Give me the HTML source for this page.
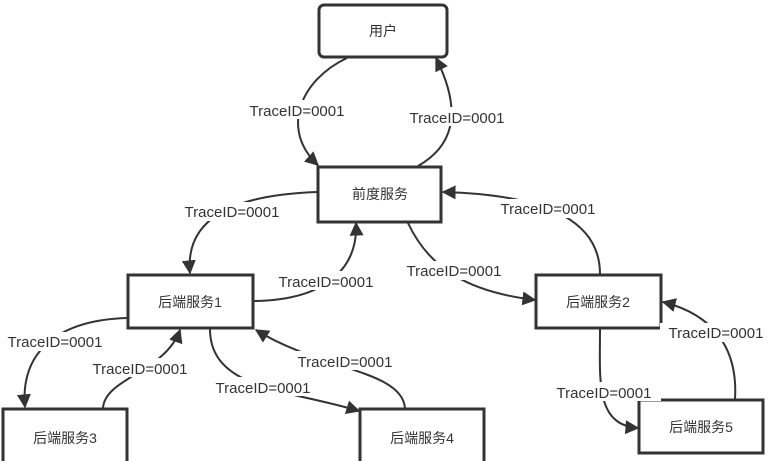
<!DOCTYPE html>
<html><head><meta charset="utf-8"><style>
html,body{margin:0;padding:0;background:#fff;width:773px;height:461px;overflow:hidden}
svg{display:block}
text{font-family:"Liberation Sans","Noto Sans CJK SC",sans-serif;fill:#333}
.b{fill:#fff;stroke:#333;stroke-width:3}
.c{fill:none;stroke:#333;stroke-width:2}
.l{font-size:15px;text-anchor:middle}
.n{font-size:14px;text-anchor:middle}
</style></head><body>
<svg width="773" height="461" viewBox="0 0 773 461">
<defs><marker id="a" markerWidth="10" markerHeight="10" refX="9" refY="5" orient="auto" markerUnits="userSpaceOnUse"><path d="M0,0 L10,5 L0,10 Z" fill="#333"/></marker>
<marker id="A" viewBox="0 0 10 10" markerWidth="14" markerHeight="14" refX="9" refY="5" orient="auto" markerUnits="userSpaceOnUse"><path d="M0,0 L10,5 L0,10 Z" fill="#333"/></marker></defs>
<rect class="b" x="319" y="5" width="128" height="52" rx="5"/>
<rect class="b" x="318" y="167" width="123" height="55"/>
<rect class="b" x="128" y="275" width="125" height="53"/>
<rect class="b" x="536" y="275" width="125" height="53"/>
<rect class="b" x="3" y="409" width="124" height="60"/>
<rect class="b" x="360" y="409" width="124" height="60"/>
<rect class="b" x="639" y="400" width="124" height="53"/>
<text class="n" x="383" y="36">用户</text>
<text class="n" x="380" y="199">前度服务</text>
<text class="n" x="190" y="307">后端服务1</text>
<text class="n" x="598" y="307">后端服务2</text>
<text class="n" x="65" y="443">后端服务3</text>
<text class="n" x="422" y="443">后端服务4</text>
<text class="n" x="701" y="432">后端服务5</text>
<g class="c">
<path d="M347,58 C300,80 280,130 318,165" marker-end="url(#A)"/>
<path d="M418,166 C455,145 462,110 436,58" marker-end="url(#A)"/>
<path d="M317,192 C230,195 185,220 190,273" marker-end="url(#A)"/>
<path d="M254,301 C330,300 358,265 356,223" marker-end="url(#A)"/>
<path d="M408,223 C430,270 470,292 535,300" marker-end="url(#A)"/>
<path d="M600,274 C600,225 555,195 443,192" marker-end="url(#A)"/>
<path d="M127,318 C60,320 20,350 25,407" marker-end="url(#A)"/>
<path d="M103,408 C105,378 165,372 180,330" marker-end="url(#A)"/>
<path d="M210,329 C210,390 290,390 359,411" marker-end="url(#A)"/>
<path d="M405,408 C402,370 320,370 256,330" marker-end="url(#A)"/>
<path d="M600,329 C600,380 595,425 638,428" marker-end="url(#A)"/>
<path d="M735,399 C738,350 715,315 663,302" marker-end="url(#A)"/>
</g>
<g class="l">
<rect x="240" y="100" width="113" height="19" fill="#fff"/><text x="297" y="116">TraceID=0001</text>
<rect x="400" y="107" width="113" height="19" fill="#fff"/><text x="457" y="123">TraceID=0001</text>
<rect x="176" y="202" width="113" height="19" fill="#fff"/><text x="232" y="217">TraceID=0001</text>
<rect x="270" y="271" width="113" height="19" fill="#fff"/><text x="326" y="287">TraceID=0001</text>
<rect x="398" y="261" width="113" height="19" fill="#fff"/><text x="454" y="276">TraceID=0001</text>
<rect x="491" y="199" width="113" height="19" fill="#fff"/><text x="548" y="214">TraceID=0001</text>
<rect x="0" y="332" width="112" height="19" fill="#fff"/><text x="55" y="347">TraceID=0001</text>
<rect x="84" y="358" width="113" height="19" fill="#fff"/><text x="140" y="374">TraceID=0001</text>
<rect x="207" y="377" width="113" height="19" fill="#fff"/><text x="263" y="393">TraceID=0001</text>
<rect x="289" y="351" width="113" height="19" fill="#fff"/><text x="345" y="367">TraceID=0001</text>
<rect x="548" y="382" width="113" height="19" fill="#fff"/><text x="604" y="398">TraceID=0001</text>
<rect x="660" y="323" width="113" height="19" fill="#fff"/><text x="716" y="338">TraceID=0001</text>
</g>
</svg>
</body></html>
